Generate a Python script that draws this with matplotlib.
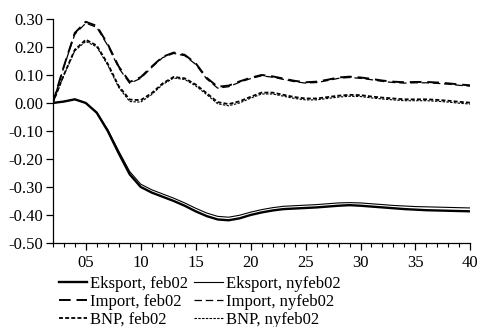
import numpy as np
import matplotlib
matplotlib.use("Agg")
import matplotlib.pyplot as plt
from matplotlib.ticker import MultipleLocator, FixedLocator

plt.rcParams['font.family'] = ['Liberation Serif', 'DejaVu Serif']

periods = np.arange(2, 41)

eksport_feb02 = [0.0, 0.005, 0.013, 0.0, -0.035, -0.10, -0.18, -0.255, -0.30, -0.32,
                 -0.335, -0.35, -0.367, -0.387, -0.404, -0.416, -0.419, -0.412, -0.400, -0.391,
                 -0.384, -0.379, -0.377, -0.375, -0.373, -0.370, -0.367, -0.365, -0.367, -0.370,
                 -0.373, -0.376, -0.379, -0.381, -0.383, -0.384, -0.385, -0.386, -0.387]
eksport_nyfeb02 = [0.0, 0.005, 0.013, 0.0, -0.033, -0.095, -0.172, -0.245, -0.29, -0.31,
                   -0.325, -0.34, -0.357, -0.376, -0.393, -0.405, -0.408, -0.401, -0.390, -0.381,
                   -0.374, -0.369, -0.367, -0.365, -0.363, -0.360, -0.357, -0.356, -0.357, -0.360,
                   -0.363, -0.366, -0.368, -0.370, -0.371, -0.372, -0.373, -0.374, -0.375]

import_feb02 = [0.0, 0.13, 0.25, 0.29, 0.275, 0.21, 0.13, 0.075, 0.092, 0.13,
                0.165, 0.18, 0.172, 0.142, 0.09, 0.058, 0.062, 0.077, 0.09, 0.10,
                0.095, 0.087, 0.079, 0.074, 0.076, 0.083, 0.091, 0.094, 0.091, 0.086,
                0.08, 0.076, 0.074, 0.075, 0.075, 0.073, 0.070, 0.066, 0.063]
import_nyfeb02 = [0.0, 0.128, 0.245, 0.285, 0.27, 0.205, 0.125, 0.07, 0.088, 0.127,
                  0.162, 0.177, 0.169, 0.138, 0.086, 0.053, 0.058, 0.074, 0.087, 0.097,
                  0.092, 0.084, 0.076, 0.071, 0.073, 0.08, 0.088, 0.091, 0.088, 0.083,
                  0.077, 0.073, 0.071, 0.072, 0.072, 0.07, 0.067, 0.063, 0.06]

bnp_feb02 = [0.0, 0.10, 0.19, 0.226, 0.205, 0.14, 0.06, 0.012, 0.01, 0.035,
             0.07, 0.093, 0.088, 0.066, 0.035, 0.003, -0.004, 0.006, 0.022, 0.037,
             0.037, 0.029, 0.021, 0.016, 0.016, 0.021, 0.026, 0.029, 0.028, 0.023,
             0.019, 0.016, 0.013, 0.013, 0.013, 0.011, 0.008, 0.004, 0.001]
bnp_nyfeb02 = [0.0, 0.098, 0.186, 0.22, 0.2, 0.135, 0.055, 0.005, 0.003, 0.03,
               0.066, 0.089, 0.084, 0.061, 0.03, -0.003, -0.01, 0.0, 0.017, 0.032,
               0.032, 0.024, 0.016, 0.011, 0.011, 0.016, 0.021, 0.024, 0.023, 0.018,
               0.014, 0.011, 0.008, 0.008, 0.008, 0.006, 0.003, -0.001, -0.004]

fig = plt.figure(figsize=(4.8, 3.27), dpi=100)
ax = fig.add_axes([0.110, 0.257, 0.870, 0.685])

long_dash = (0, (6, 3))
short_dash = (0, (2.2, 1.2))

l1, = ax.plot(periods, eksport_feb02, color='black', lw=1.7, ls='-')
l2, = ax.plot(periods, eksport_nyfeb02, color='black', lw=0.8, ls='-')
l3, = ax.plot(periods, import_feb02, color='black', lw=1.4, ls=long_dash)
l4, = ax.plot(periods, import_nyfeb02, color='black', lw=0.9, ls=long_dash)
l5, = ax.plot(periods, bnp_feb02, color='black', lw=1.3, ls=short_dash)
l6, = ax.plot(periods, bnp_nyfeb02, color='black', lw=0.8, ls=short_dash)

ax.set_xlim(2, 40)
ax.set_ylim(-0.5, 0.3)
ax.xaxis.set_major_locator(FixedLocator([5, 10, 15, 20, 25, 30, 35, 40]))
ax.set_xticklabels(['05', '10', '15', '20', '25', '30', '35', '40'])
ax.xaxis.set_minor_locator(MultipleLocator(1))
ax.yaxis.set_major_locator(MultipleLocator(0.1))
ax.yaxis.set_major_formatter(matplotlib.ticker.FormatStrFormatter('%.2f'))

for s in ['top', 'right']:
    ax.spines[s].set_visible(False)
for s in ['left', 'bottom']:
    ax.spines[s].set_linewidth(0.9)

ax.tick_params(axis='both', which='major', direction='out', length=5, width=0.9,
               labelsize=12, pad=2)
ax.tick_params(axis='x', which='minor', direction='out', length=3, width=0.8)
ax.tick_params(axis='x', which='major', pad=4)

leg = fig.legend([l1, l3, l5, l2, l4, l6],
                 ['Eksport, feb02', 'Import, feb02', 'BNP, feb02',
                  'Eksport, nyfeb02', 'Import, nyfeb02', 'BNP, nyfeb02'],
                 ncol=2, loc='upper left', bbox_to_anchor=(0.105, 0.182),
                 frameon=False, fontsize=12, handlelength=1.7,
                 handletextpad=0.2, columnspacing=0.35, labelspacing=0.12,
                 borderpad=0.0)

fig.savefig('out.png', dpi=100)
